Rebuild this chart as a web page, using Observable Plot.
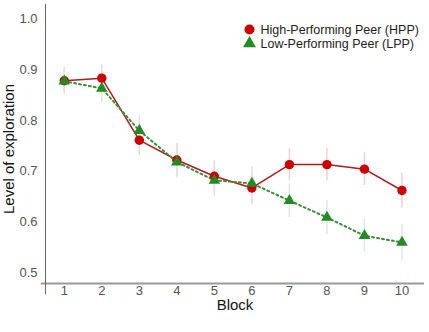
<!DOCTYPE html>
<html>
<head>
<meta charset="utf-8">
<script src="https://cdn.jsdelivr.net/npm/d3@7"></script>
<script src="https://cdn.jsdelivr.net/npm/@observablehq/plot@0.6"></script>
<style>
  html, body { margin: 0; padding: 0; background: #fff; }
  svg { display: block; }
</style>
</head>
<body>
<div id="chart"></div>
<script>
const blocks = [1, 2, 3, 4, 5, 6, 7, 8, 9, 10];
const hppMean = [0.878, 0.883, 0.761, 0.722, 0.690, 0.667, 0.713, 0.713, 0.704, 0.662];
const hppErr  = [0.026, 0.026, 0.030, 0.033, 0.030, 0.033, 0.032, 0.032, 0.032, 0.034];
const lppMean = [0.877, 0.863, 0.780, 0.718, 0.682, 0.676, 0.642, 0.609, 0.573, 0.560];
const lppErr  = [0.026, 0.028, 0.030, 0.032, 0.032, 0.033, 0.033, 0.034, 0.032, 0.035];
const yTicks = [0.5, 0.6, 0.7, 0.8, 0.9, 1.0];
const seriesNames = ["High-Performing Peer (HPP)", "Low-Performing Peer (LPP)"];
const xLabel = "Block";
const yLabel = "Level of exploration";

const hpp = blocks.map((b, i) => ({block: b, mean: hppMean[i], lo: hppMean[i] - hppErr[i], hi: hppMean[i] + hppErr[i]}));
const lpp = blocks.map((b, i) => ({block: b, mean: lppMean[i], lo: lppMean[i] - lppErr[i], hi: lppMean[i] + lppErr[i]}));

const red = "#cc0000", redLine = "#b31b1b";
const green = "#238b23", greenLine = "#3a8f3a";

const chart = Plot.plot({
  width: 429,
  height: 332,
  marginTop: 4,
  marginBottom: 49,
  marginLeft: 45,
  marginRight: 5,
  style: {fontFamily: "'Liberation Sans', Arial, sans-serif", fontSize: "13px", color: "#555", background: "#fff"},
  x: {domain: [0.5, 10.6], ticks: blocks, tickSize: 0, tickPadding: 2, label: null},
  y: {domain: [0.479, 1.028], ticks: yTicks, tickFormat: d3.format(".1f"), tickSize: 0, tickPadding: 8, label: null},
  marks: [
    // axis lines
    Plot.ruleY([0.479], {x1: 0.388, x2: 10.6, stroke: "#999", strokeWidth: 2}),
    Plot.ruleX([0.5], {y1: 0.457, y2: 1.028, stroke: "#666", strokeWidth: 1}),
    // error bars
    Plot.ruleX(hpp, {x: "block", y1: "lo", y2: "hi", stroke: "#f0d2d2", strokeWidth: 1.5}),
    Plot.ruleX(lpp, {x: "block", y1: "lo", y2: "hi", stroke: "#dfe6df", strokeWidth: 1.5}),
    // lines
    Plot.line(hpp, {x: "block", y: "mean", stroke: redLine, strokeWidth: 1.5}),
    Plot.line(lpp, {x: "block", y: "mean", stroke: greenLine, strokeWidth: 2, strokeDasharray: "2,3"}),
    // markers
    Plot.dot(hpp, {x: "block", y: "mean", r: 4.7, fill: red, symbol: "circle"}),
    Plot.dot(lpp, {x: "block", y: "mean", r: 4.3, fill: green, symbol: "triangle"}),
    // legend
    Plot.dot([seriesNames[0]], {frameAnchor: "top-left", dx: 204, dy: 25, r: 5, fill: red, symbol: "circle"}),
    Plot.dot([seriesNames[1]], {frameAnchor: "top-left", dx: 204, dy: 39, r: 4.8, fill: green, symbol: "triangle"}),
    Plot.text([seriesNames[0]], {frameAnchor: "top-left", dx: 215, dy: 25, lineAnchor: "middle", text: d => d, textAnchor: "start", fill: "#222", fontSize: 12.5}),
    Plot.text([seriesNames[1]], {frameAnchor: "top-left", dx: 215, dy: 39, lineAnchor: "middle", text: d => d, textAnchor: "start", fill: "#222", fontSize: 12.5}),
    // axis titles
    Plot.text([xLabel], {frameAnchor: "bottom", dy: 21.5, lineAnchor: "middle", textAnchor: "middle", text: d => d, fill: "#111", fontSize: 15}),
    Plot.text([yLabel], {frameAnchor: "left", dx: -36.5, dy: 5, lineAnchor: "middle", textAnchor: "middle", rotate: -90, text: d => d, fill: "#111", fontSize: 15})
  ]
});
document.getElementById("chart").appendChild(chart);
</script>
</body>
</html>
